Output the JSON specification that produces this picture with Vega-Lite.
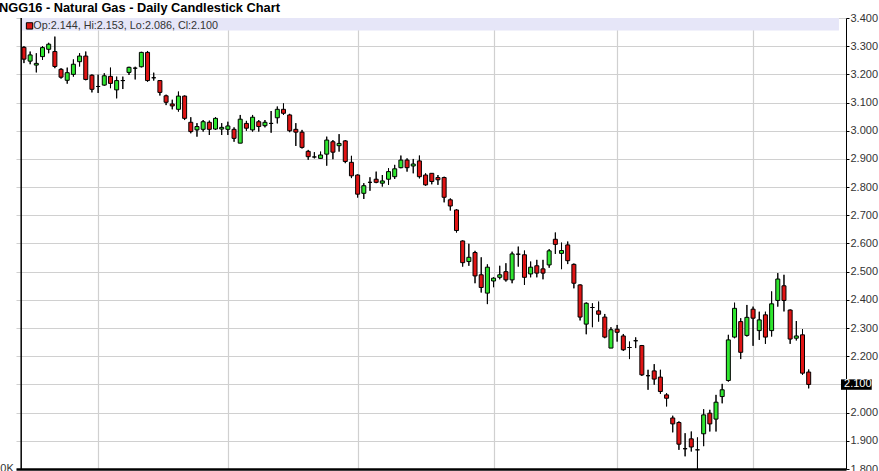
{
 "$schema": "https://vega.github.io/schema/vega-lite/v6.json",
 "width": 830,
 "height": 451,
 "autosize": "none",
 "padding": {"left": 16, "top": 18, "right": 33, "bottom": 2},
 "background": "white",
 "title": {"text": "NGG16 - Natural Gas - Daily Candlestick Chart", "anchor": "start", "frame": "group", "fontSize": 12.8, "fontWeight": "bold", "font": "Liberation Sans", "color": "black", "dx": -17, "dy": 15, "offset": 2, "baseline": "alphabetic"},
 "config": {"view": {"stroke": null}, "axis": {"labelOverlap": false, "labelBound": false, "labelFlush": false, "labelSeparation": 0}},
 "data": {"values": [
  {"i":0,"o":3.296,"h":3.300,"l":3.240,"c":3.254},
  {"i":1,"o":3.247,"h":3.281,"l":3.236,"c":3.269},
  {"i":2,"o":3.233,"h":3.275,"l":3.207,"c":3.239},
  {"i":3,"o":3.263,"h":3.300,"l":3.251,"c":3.295},
  {"i":4,"o":3.289,"h":3.312,"l":3.275,"c":3.307},
  {"i":5,"o":3.281,"h":3.334,"l":3.222,"c":3.228},
  {"i":6,"o":3.218,"h":3.222,"l":3.185,"c":3.190},
  {"i":7,"o":3.179,"h":3.224,"l":3.167,"c":3.206},
  {"i":8,"o":3.200,"h":3.253,"l":3.192,"c":3.236},
  {"i":9,"o":3.245,"h":3.275,"l":3.228,"c":3.265},
  {"i":10,"o":3.265,"h":3.281,"l":3.179,"c":3.182},
  {"i":11,"o":3.197,"h":3.200,"l":3.136,"c":3.147},
  {"i":12,"o":3.157,"h":3.199,"l":3.134,"c":3.157},
  {"i":13,"o":3.162,"h":3.204,"l":3.160,"c":3.195},
  {"i":14,"o":3.193,"h":3.224,"l":3.151,"c":3.168},
  {"i":15,"o":3.145,"h":3.192,"l":3.115,"c":3.178},
  {"i":16,"o":3.178,"h":3.192,"l":3.148,"c":3.178},
  {"i":17,"o":3.207,"h":3.227,"l":3.198,"c":3.225},
  {"i":18,"o":3.222,"h":3.227,"l":3.182,"c":3.222},
  {"i":19,"o":3.227,"h":3.280,"l":3.225,"c":3.278},
  {"i":20,"o":3.278,"h":3.283,"l":3.174,"c":3.178},
  {"i":21,"o":3.188,"h":3.206,"l":3.178,"c":3.188},
  {"i":22,"o":3.178,"h":3.180,"l":3.125,"c":3.136},
  {"i":23,"o":3.124,"h":3.128,"l":3.091,"c":3.101},
  {"i":24,"o":3.095,"h":3.110,"l":3.076,"c":3.088},
  {"i":25,"o":3.076,"h":3.139,"l":3.068,"c":3.123},
  {"i":26,"o":3.123,"h":3.125,"l":3.038,"c":3.044},
  {"i":27,"o":3.030,"h":3.048,"l":2.991,"c":2.997},
  {"i":28,"o":3.003,"h":3.027,"l":2.979,"c":3.015},
  {"i":29,"o":3.005,"h":3.038,"l":2.997,"c":3.032},
  {"i":30,"o":3.030,"h":3.036,"l":2.985,"c":3.005},
  {"i":31,"o":3.006,"h":3.048,"l":3.003,"c":3.044},
  {"i":32,"o":3.006,"h":3.027,"l":2.985,"c":3.012},
  {"i":33,"o":3.005,"h":3.032,"l":2.985,"c":3.017},
  {"i":34,"o":3.005,"h":3.012,"l":2.961,"c":2.973},
  {"i":35,"o":2.956,"h":3.056,"l":2.956,"c":3.041},
  {"i":36,"o":3.026,"h":3.035,"l":3.000,"c":3.009},
  {"i":37,"o":3.003,"h":3.056,"l":2.997,"c":3.048},
  {"i":38,"o":3.032,"h":3.038,"l":2.997,"c":3.015},
  {"i":39,"o":3.018,"h":3.038,"l":3.012,"c":3.030},
  {"i":40,"o":3.026,"h":3.070,"l":2.993,"c":3.026},
  {"i":41,"o":3.046,"h":3.086,"l":3.026,"c":3.076},
  {"i":42,"o":3.076,"h":3.097,"l":3.056,"c":3.062},
  {"i":43,"o":3.056,"h":3.060,"l":2.995,"c":3.000},
  {"i":44,"o":3.005,"h":3.027,"l":2.946,"c":2.995},
  {"i":45,"o":2.995,"h":3.003,"l":2.937,"c":2.941},
  {"i":46,"o":2.927,"h":2.932,"l":2.897,"c":2.908},
  {"i":47,"o":2.907,"h":2.924,"l":2.902,"c":2.907},
  {"i":48,"o":2.902,"h":2.926,"l":2.902,"c":2.914},
  {"i":49,"o":2.917,"h":2.979,"l":2.876,"c":2.967},
  {"i":50,"o":2.961,"h":2.967,"l":2.899,"c":2.924},
  {"i":51,"o":2.947,"h":2.988,"l":2.926,"c":2.955},
  {"i":52,"o":2.964,"h":2.967,"l":2.885,"c":2.891},
  {"i":53,"o":2.888,"h":2.911,"l":2.832,"c":2.840},
  {"i":54,"o":2.843,"h":2.845,"l":2.763,"c":2.775},
  {"i":55,"o":2.778,"h":2.814,"l":2.758,"c":2.805},
  {"i":56,"o":2.817,"h":2.835,"l":2.787,"c":2.817},
  {"i":57,"o":2.828,"h":2.855,"l":2.814,"c":2.817},
  {"i":58,"o":2.814,"h":2.843,"l":2.802,"c":2.822},
  {"i":59,"o":2.828,"h":2.867,"l":2.808,"c":2.855},
  {"i":60,"o":2.837,"h":2.879,"l":2.829,"c":2.865},
  {"i":61,"o":2.869,"h":2.912,"l":2.867,"c":2.896},
  {"i":62,"o":2.896,"h":2.902,"l":2.855,"c":2.869},
  {"i":63,"o":2.875,"h":2.900,"l":2.849,"c":2.882},
  {"i":64,"o":2.893,"h":2.912,"l":2.831,"c":2.837},
  {"i":65,"o":2.843,"h":2.849,"l":2.805,"c":2.808},
  {"i":66,"o":2.849,"h":2.849,"l":2.810,"c":2.820},
  {"i":67,"o":2.834,"h":2.843,"l":2.808,"c":2.826},
  {"i":68,"o":2.834,"h":2.837,"l":2.746,"c":2.764},
  {"i":69,"o":2.755,"h":2.760,"l":2.717,"c":2.733},
  {"i":70,"o":2.719,"h":2.722,"l":2.639,"c":2.646},
  {"i":71,"o":2.609,"h":2.611,"l":2.518,"c":2.532},
  {"i":72,"o":2.536,"h":2.599,"l":2.521,"c":2.551},
  {"i":73,"o":2.568,"h":2.574,"l":2.459,"c":2.485},
  {"i":74,"o":2.489,"h":2.551,"l":2.426,"c":2.444},
  {"i":75,"o":2.424,"h":2.526,"l":2.385,"c":2.516},
  {"i":76,"o":2.467,"h":2.480,"l":2.445,"c":2.477},
  {"i":77,"o":2.480,"h":2.521,"l":2.473,"c":2.489},
  {"i":78,"o":2.500,"h":2.530,"l":2.465,"c":2.471},
  {"i":79,"o":2.471,"h":2.571,"l":2.459,"c":2.563},
  {"i":80,"o":2.562,"h":2.589,"l":2.518,"c":2.562},
  {"i":81,"o":2.560,"h":2.575,"l":2.453,"c":2.480},
  {"i":82,"o":2.492,"h":2.536,"l":2.480,"c":2.516},
  {"i":83,"o":2.521,"h":2.542,"l":2.480,"c":2.495},
  {"i":84,"o":2.510,"h":2.542,"l":2.473,"c":2.495},
  {"i":85,"o":2.524,"h":2.580,"l":2.514,"c":2.574},
  {"i":86,"o":2.615,"h":2.639,"l":2.563,"c":2.597},
  {"i":87,"o":2.565,"h":2.603,"l":2.509,"c":2.575},
  {"i":88,"o":2.595,"h":2.607,"l":2.527,"c":2.539},
  {"i":89,"o":2.526,"h":2.529,"l":2.441,"c":2.459},
  {"i":90,"o":2.453,"h":2.455,"l":2.327,"c":2.339},
  {"i":91,"o":2.314,"h":2.391,"l":2.278,"c":2.388},
  {"i":92,"o":2.373,"h":2.388,"l":2.303,"c":2.373},
  {"i":93,"o":2.361,"h":2.394,"l":2.323,"c":2.349},
  {"i":94,"o":2.339,"h":2.350,"l":2.264,"c":2.268},
  {"i":95,"o":2.229,"h":2.303,"l":2.229,"c":2.294},
  {"i":96,"o":2.296,"h":2.311,"l":2.252,"c":2.285},
  {"i":97,"o":2.272,"h":2.279,"l":2.219,"c":2.223},
  {"i":98,"o":2.231,"h":2.252,"l":2.190,"c":2.231},
  {"i":99,"o":2.255,"h":2.267,"l":2.229,"c":2.255},
  {"i":100,"o":2.238,"h":2.240,"l":2.130,"c":2.134},
  {"i":101,"o":2.131,"h":2.152,"l":2.081,"c":2.131},
  {"i":102,"o":2.148,"h":2.172,"l":2.099,"c":2.119},
  {"i":103,"o":2.126,"h":2.152,"l":2.067,"c":2.075},
  {"i":104,"o":2.063,"h":2.069,"l":2.022,"c":2.051},
  {"i":105,"o":1.981,"h":1.989,"l":1.930,"c":1.960},
  {"i":106,"o":1.965,"h":1.969,"l":1.868,"c":1.888},
  {"i":107,"o":1.872,"h":1.927,"l":1.845,"c":1.872},
  {"i":108,"o":1.907,"h":1.933,"l":1.862,"c":1.878},
  {"i":109,"o":1.868,"h":1.912,"l":1.800,"c":1.868},
  {"i":110,"o":1.925,"h":2.012,"l":1.881,"c":1.992},
  {"i":111,"o":1.998,"h":2.010,"l":1.933,"c":1.960},
  {"i":112,"o":1.977,"h":2.063,"l":1.933,"c":2.037},
  {"i":113,"o":2.057,"h":2.102,"l":2.033,"c":2.081},
  {"i":114,"o":2.114,"h":2.276,"l":2.110,"c":2.258},
  {"i":115,"o":2.268,"h":2.390,"l":2.264,"c":2.370},
  {"i":116,"o":2.323,"h":2.335,"l":2.190,"c":2.214},
  {"i":117,"o":2.274,"h":2.382,"l":2.270,"c":2.338},
  {"i":118,"o":2.367,"h":2.376,"l":2.237,"c":2.335},
  {"i":119,"o":2.291,"h":2.358,"l":2.258,"c":2.329},
  {"i":120,"o":2.347,"h":2.358,"l":2.244,"c":2.268},
  {"i":121,"o":2.291,"h":2.430,"l":2.270,"c":2.386},
  {"i":122,"o":2.398,"h":2.495,"l":2.376,"c":2.474},
  {"i":123,"o":2.450,"h":2.489,"l":2.359,"c":2.398},
  {"i":124,"o":2.364,"h":2.366,"l":2.244,"c":2.261},
  {"i":125,"o":2.264,"h":2.325,"l":2.256,"c":2.272},
  {"i":126,"o":2.276,"h":2.296,"l":2.134,"c":2.140},
  {"i":127,"o":2.144,"h":2.153,"l":2.086,"c":2.100}
 ]},
 "layer": [
  {
   "mark": {"type": "rule", "color": "black", "strokeWidth": 1},
   "encoding": {
    "x": {"field": "i", "type": "quantitative", "scale": {"domain": [-0.48, 132.23], "nice": false, "zero": false},
     "axis": {"values": [12, 33, 54, 76, 96, 118], "tickCount": 20, "grid": true, "gridColor": "#d0d0d0", "gridWidth": 1.2, "labels": false, "ticks": false, "domain": true, "domainColor": "black", "domainWidth": 2.5, "title": null}},
    "y": {"field": "l", "type": "quantitative", "scale": {"domain": [1.8, 3.4], "nice": false, "zero": false},
     "axis": {"orient": "right", "values": [1.8, 1.9, 2.0, 2.1, 2.2, 2.3, 2.4, 2.5, 2.6, 2.7, 2.8, 2.9, 3.0, 3.1, 3.2, 3.3, 3.4], "tickCount": 20, "format": ".3f", "labelExpr": "abs(datum.value - 2.1) < 0.001 ? '' : datum.label", "grid": true, "gridColor": "#d0d0d0", "gridWidth": 1.2, "tickColor": "black", "tickSize": 3, "domainColor": "black", "labelFont": "Liberation Sans", "labelFontSize": 11, "labelColor": "#333333", "labelPadding": 1, "labelOverlap": false, "labelSeparation": 0, "title": null}},
    "y2": {"field": "h"}
   }
  },
  {
   "data": {"values": [{"label": "Op:2.144, Hi:2.153, Lo:2.086, Cl:2.100"}]},
   "mark": {"type": "rect", "color": "#e6e6f8"},
   "encoding": {
    "x": {"datum": -0.4, "type": "quantitative"},
    "x2": {"datum": 131.9},
    "y": {"datum": 3.4, "type": "quantitative"},
    "y2": {"datum": 3.356}
   }
  },
  {
   "data": {"values": [{"label": "0K"}]},
   "mark": {"type": "rule", "color": "black", "strokeWidth": 1.5},
   "encoding": {
    "x": {"datum": -0.45, "type": "quantitative"}
   }
  },
  {
   "data": {"values": [{"label": "0K"}]},
   "mark": {"type": "text", "align": "right", "baseline": "middle", "font": "Liberation Sans", "fontSize": 11, "color": "#333333"},
   "encoding": {
    "x": {"datum": -1.65, "type": "quantitative"},
    "y": {"datum": 1.8, "type": "quantitative"},
    "text": {"field": "label"}
   }
  },
  {
   "data": {"values": [{"label": "Op:2.144, Hi:2.153, Lo:2.086, Cl:2.100"}]},
   "mark": {"type": "point", "shape": "square", "filled": true, "size": 40, "color": "#dd1515", "stroke": "black", "strokeWidth": 1, "opacity": 1},
   "encoding": {
    "x": {"datum": 0.9, "type": "quantitative"},
    "y": {"datum": 3.372, "type": "quantitative"}
   }
  },
  {
   "data": {"values": [{"label": "Op:2.144, Hi:2.153, Lo:2.086, Cl:2.100"}]},
   "mark": {"type": "text", "align": "left", "baseline": "middle", "font": "Liberation Sans", "fontSize": 10.8, "color": "#333333"},
   "encoding": {
    "x": {"datum": 1.5, "type": "quantitative"},
    "y": {"datum": 3.3725, "type": "quantitative"},
    "text": {"field": "label"}
   }
  },
  {
   "mark": {"type": "rule", "color": "black", "strokeWidth": 1},
   "encoding": {
    "x": {"field": "i", "type": "quantitative"},
    "y": {"field": "l", "type": "quantitative"},
    "y2": {"field": "h"}
   }
  },
  {
   "mark": {"type": "bar", "width": 4, "stroke": "black", "strokeWidth": 1},
   "encoding": {
    "x": {"field": "i", "type": "quantitative"},
    "y": {"field": "o", "type": "quantitative"},
    "y2": {"field": "c"},
    "color": {"condition": {"test": "datum.c > datum.o", "value": "#2fe62f"}, "value": "#e01414"}
   }
  },
  {
   "data": {"values": [{"label": "2.100"}]},
   "mark": {"type": "rect", "color": "black"},
   "encoding": {
    "x": {"datum": 132.23, "type": "quantitative"},
    "x2": {"datum": 137.2},
    "y": {"datum": 2.118, "type": "quantitative"},
    "y2": {"datum": 2.081}
   }
  },
  {
   "data": {"values": [{"label": "2.100"}]},
   "mark": {"type": "text", "align": "left", "baseline": "middle", "font": "Liberation Sans", "fontSize": 11, "color": "white"},
   "encoding": {
    "x": {"datum": 132.72, "type": "quantitative"},
    "y": {"datum": 2.1, "type": "quantitative"},
    "text": {"field": "label"}
   }
  }
 ]
}
